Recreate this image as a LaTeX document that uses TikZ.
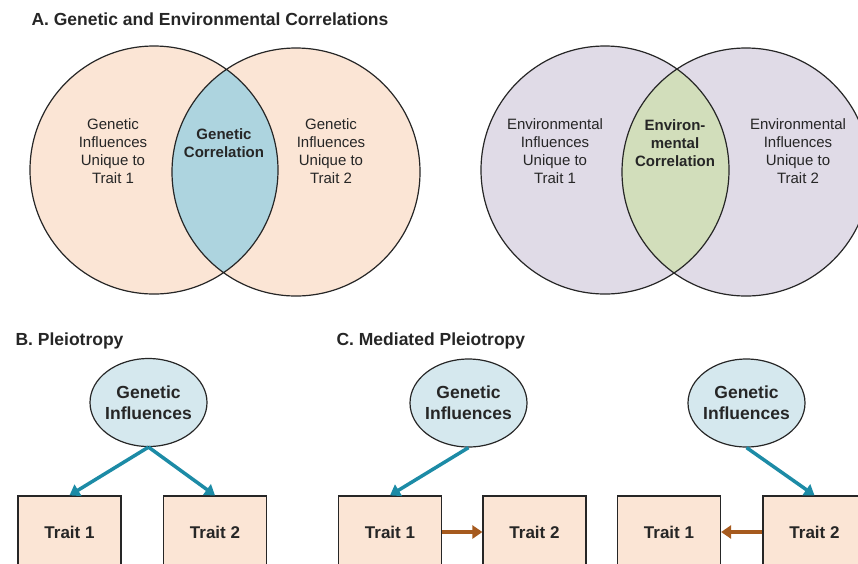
\documentclass[tikz,border=0pt]{standalone}
\usepackage{fontspec}
\setmainfont{Liberation Sans}
\usetikzlibrary{arrows.meta, shapes.geometric}

\definecolor{peach}{HTML}{FBE5D5}
\definecolor{lensblue}{HTML}{ADD4DF}
\definecolor{lavender}{HTML}{E0DBE7}
\definecolor{lensgreen}{HTML}{D2DEBB}
\definecolor{geneblue}{HTML}{D5E8EE}
\definecolor{outline}{HTML}{262626}
\definecolor{ink}{HTML}{262626}
\definecolor{tealpath}{HTML}{1C8BA6}
\definecolor{brownpath}{HTML}{A65A1E}

\tikzset{
  venn circle/.style={draw=outline, line width=1.2pt},
  venn text/.style={align=center, text=ink, font=\fontsize{15}{18}\selectfont},
  lens text/.style={align=center, text=ink, font=\fontsize{15}{18}\selectfont\bfseries},
  panel title/.style={anchor=base west, text=ink, font=\fontsize{17.5}{20}\selectfont\bfseries},
  gene/.style={ellipse, draw=outline, fill=geneblue, line width=1.2pt,
    minimum width=117pt, minimum height=88pt, inner xsep=-2pt, align=center,
    text=ink, font=\fontsize{17.5}{21}\selectfont\bfseries},
  trait/.style={rectangle, draw=outline, fill=peach, line width=1.2pt,
    minimum width=103pt, minimum height=72pt, text=ink,
    font=\fontsize{17}{20}\selectfont\bfseries},
  gene path/.style={-{Triangle[length=10pt,width=13pt]}, line width=3.5pt, draw=tealpath},
  trait path/.style={-{Triangle[length=10pt,width=13pt]}, line width=3.5pt, draw=brownpath},
}

\begin{document}
\begin{tikzpicture}[x=1pt, y=-1pt]
\clip (0,0) rectangle (858,563);

% Panel titles
\node[panel title] (titleA) at (28,25)  {A. Genetic and Environmental Correlations};
\node[panel title] (titleB) at (12,345) {B. Pleiotropy};
\node[panel title] (titleC) at (333,345) {C. Mediated Pleiotropy};

% Centres of the four circles
\coordinate (GL) at (154,170);
\coordinate (GR) at (296,172);
\coordinate (EL) at (605,170);
\coordinate (ER) at (746,172);

% Genetic Venn
\fill[peach] (GL) circle (124pt) (GR) circle (124pt);
\begin{scope}
  \clip (GL) circle (124pt);
  \fill[lensblue] (GR) circle (124pt);
\end{scope}
\draw[venn circle] (GL) circle (124pt) (GR) circle (124pt);

% Environmental Venn
\fill[lavender] (EL) circle (124pt) (ER) circle (124pt);
\begin{scope}
  \clip (EL) circle (124pt);
  \fill[lensgreen] (ER) circle (124pt);
\end{scope}
\draw[venn circle] (EL) circle (124pt) (ER) circle (124pt);

% Venn labels
\node[venn text] (genA)  at (113,151) {Genetic\\Influences\\Unique to\\Trait 1};
\node[lens text] (genAB) at (224,143) {Genetic\\Correlation};
\node[venn text] (genB)  at (331,151) {Genetic\\Influences\\Unique to\\Trait 2};
\node[venn text] (envA)  at (555,151) {Environmental\\Influences\\Unique to\\Trait 1};
\node[lens text] (envAB) at (675,143) {Environ-\\mental\\Correlation};
\node[venn text] (envB)  at (798,151) {Environmental\\Influences\\Unique to\\Trait 2};

% B. Pleiotropy
\node[gene]  (geneB)   at (148.5,402.5) {Genetic\\Influences};
\node[trait] (traitB1) at (69.5,532)    {Trait 1};
\node[trait] (traitB2) at (215,532)     {Trait 2};
\draw[gene path] (geneB.south) -- (traitB1.north);
\draw[gene path] (geneB.south) -- (traitB2.north);

% C. Mediated pleiotropy, trait 1 first
\node[gene]  (geneC)   at (468.5,403) {Genetic\\Influences};
\node[trait] (traitC1) at (390,532)   {Trait 1};
\node[trait] (traitC2) at (534.5,532) {Trait 2};
\draw[gene path]  (geneC.south) -- (traitC1.north);
\draw[trait path] (traitC1.east) -- (traitC2.west);

% C. Mediated pleiotropy, trait 2 first
\node[gene]  (geneD)   at (746.5,403) {Genetic\\Influences};
\node[trait] (traitD1) at (669,532)   {Trait 1};
\node[trait] (traitD2) at (814.5,532) {Trait 2};
\draw[gene path]  (geneD.south) -- (traitD2.north);
\draw[trait path] (traitD2.west) -- (traitD1.east);

\end{tikzpicture}
\end{document}
